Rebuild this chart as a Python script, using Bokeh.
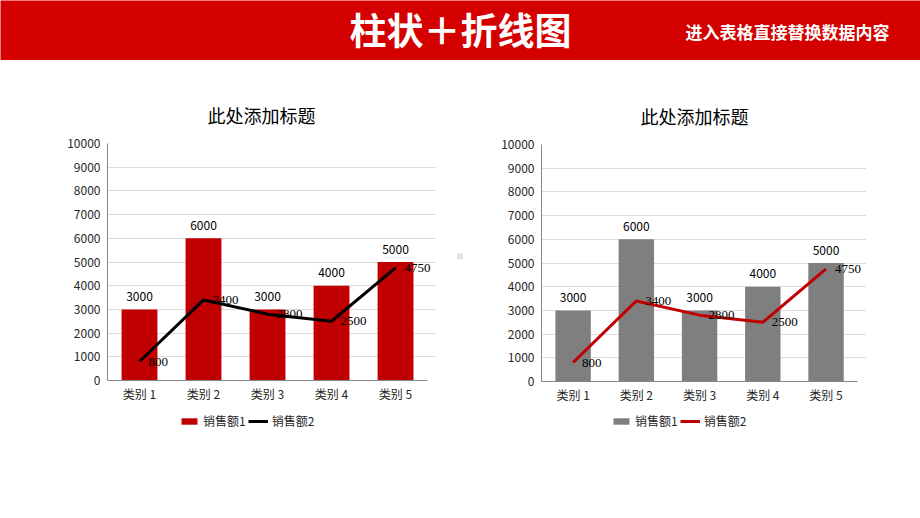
from bokeh.plotting import figure
from bokeh.models import Range1d, Legend, LegendItem, FixedTicker, LabelSet, ColumnDataSource
from bokeh.layouts import column, row
from bokeh.core.properties import value
from bokeh.embed import file_html
from bokeh.resources import INLINE

FONT = "Noto Sans CJK SC"
NAN = float("nan")

page_title = "柱状＋折线图"
page_subtitle = "进入表格直接替换数据内容"
chart_title = "此处添加标题"
categories = ["类别 1", "类别 2", "类别 3", "类别 4", "类别 5"]
sales1 = [3000, 6000, 3000, 4000, 5000]
sales2 = [800, 3400, 2800, 2500, 4750]
series_names = ["销售额1", "销售额2"]
y_ticks = [0, 1000, 2000, 3000, 4000, 5000, 6000, 7000, 8000, 9000, 10000]

# category slot centres on a numeric axis (slot i spans i..i+1)
xs = [i + 0.5 for i in range(len(categories))]
N = len(categories)
EXTRA = 0.14  # a little room on the right so the last line label is not clipped


def blank(p):
    p.axis.visible = False
    p.grid.visible = False
    p.outline_line_color = None
    return p


# header band (page coordinates)
header = figure(width=920, height=60, x_range=Range1d(0, 920), y_range=Range1d(60, 0),
                output_backend="svg", toolbar_location=None,
                min_border=0, background_fill_color="#D40000", border_fill_color="#D40000")
blank(header)
header.text(x=[460], y=[28], text=[page_title], text_align="center", text_baseline="middle",
            text_font=value(FONT), text_font_style="bold", text_font_size="37px", text_color="white")
header.text(x=[787], y=[31], text=[page_subtitle], text_align="center", text_baseline="middle",
            text_font=value(FONT), text_font_style="bold", text_font_size="17px", text_color="white")


def make_chart(width, bl, br, bt, bb, bar_color, line_color, title_offset):
    p = figure(width=width, height=bt + 237 + bb, x_range=Range1d(0, N + EXTRA),
               y_range=Range1d(0, 10000),
               output_backend="svg", toolbar_location=None,
               min_border_left=bl, min_border_right=br, min_border_top=bt, min_border_bottom=bb,
               title=chart_title)
    p.title.align = "left"
    p.title.offset = title_offset
    p.title.text_font = FONT
    p.title.text_font_size = "18px"
    p.title.text_font_style = "normal"
    p.title.text_color = "#000000"
    p.title.standoff = 32
    p.outline_line_color = None
    p.xgrid.visible = False
    p.ygrid.grid_line_color = "#DDDDDD"
    p.yaxis.ticker = FixedTicker(ticks=y_ticks)
    p.xaxis.ticker = FixedTicker(ticks=xs)
    p.xaxis.major_label_overrides = {x: c for x, c in zip(xs, categories)}
    p.xaxis.bounds = (0, N)
    for ax in (p.xaxis, p.yaxis):
        ax.axis_line_color = "#868686"
        ax.axis_line_width = 1
        ax.major_tick_line_color = None
        ax.minor_tick_line_color = None
        ax.major_tick_out = 0
        ax.major_label_text_font = FONT
        ax.major_label_text_font_size = "12px"
        ax.major_label_text_color = "#262626"
    p.yaxis.major_label_standoff = 7
    p.xaxis.major_label_standoff = 4

    p.vbar(x=xs, top=sales1, width=0.56, fill_color=bar_color, line_color=None)
    p.line(x=xs, y=sales2, line_color=line_color, line_width=3, line_join="round")

    p.text(x=xs, y=sales1, text=[str(v) for v in sales1], y_offset=-13,
           text_align="center", text_baseline="middle", text_font=value(FONT),
           text_font_size="12px", text_color="#000000")
    src = ColumnDataSource(dict(x=xs, y=sales2, t=[str(v) for v in sales2]))
    p.add_layout(LabelSet(x="x", y="y", text="t", source=src, x_offset=9,
                          text_align="left", text_baseline="middle", text_font=FONT,
                          text_font_size="13px", text_color="#000000"))
    return p


def make_legend(width, bar_color, line_color, legend_x):
    q = figure(width=width, height=30, x_range=Range1d(0, 1), y_range=Range1d(0, 1),
               output_backend="svg", toolbar_location=None, min_border=0)
    blank(q)
    # empty (NaN) renderers, only used for legend swatches
    b = q.vbar(x=[0.5], top=[NAN], width=0.5, fill_color=bar_color, line_color=None)
    l = q.line(x=[0.2, 0.8], y=[NAN, NAN], line_color=line_color, line_width=3)
    legend = Legend(items=[LegendItem(label=series_names[0], renderers=[b]),
                           LegendItem(label=series_names[1], renderers=[l])],
                    orientation="horizontal", location=(legend_x, 11),
                    padding=0, margin=0, spacing=2, label_standoff=4,
                    glyph_width=20, glyph_height=8, label_height=14,
                    label_text_font=FONT, label_text_font_size="12px", label_text_color="#262626",
                    border_line_color=None, background_fill_alpha=0)
    q.add_layout(legend)
    return q


left = make_chart(450, 107, 14, 83, 30, "#C00000", "#000000", 100)
left_leg = make_legend(450, "#C00000", "#000000", 72)
right = make_chart(450, 71, 54, 84, 29, "#7F7F7F", "#C00000", 99)
right_leg = make_legend(450, "#7F7F7F", "#C00000", 70)

mid = figure(width=20, height=380, x_range=Range1d(450, 470), y_range=Range1d(440, 60),
             output_backend="svg", toolbar_location=None, min_border=0)
blank(mid)
mid.rect(x=[459.7], y=[255.7], width=6, height=6, width_units="screen", height_units="screen",
         fill_color="#E3E3E3", line_color=None)

layout = column(header, row(column(left, left_leg), mid, column(right, right_leg)))
open("out.html", "w").write(file_html(layout, INLINE))
